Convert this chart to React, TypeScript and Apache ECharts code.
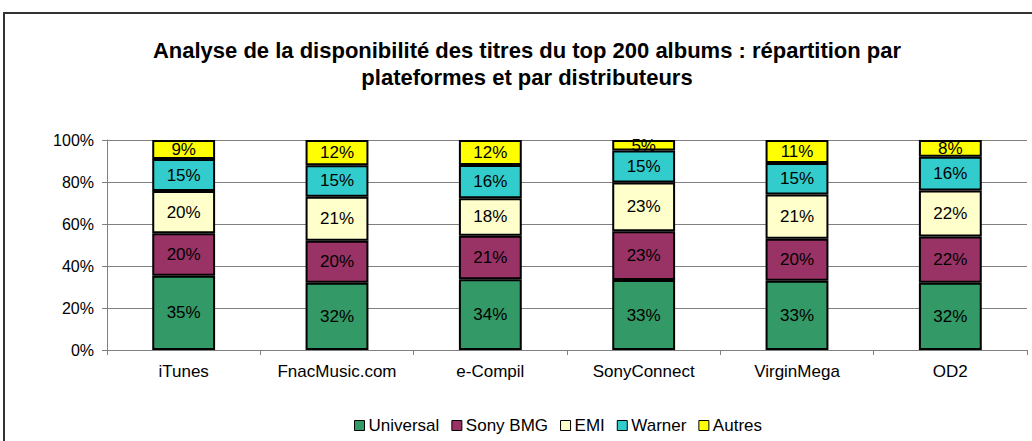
import React, { useEffect, useRef } from "react";
import * as echarts from "echarts";

const categories = ["iTunes", "FnacMusic.com", "e-Compil", "SonyConnect", "VirginMega", "OD2"];
const seriesNames = ["Universal", "Sony BMG", "EMI", "Warner", "Autres"];
const universal = [35, 32, 34, 33, 33, 32];
const sonyBmg = [20, 20, 21, 23, 20, 22];
const emi = [20, 21, 18, 23, 21, 22];
const warner = [15, 15, 16, 15, 15, 16];
const autres = [9, 12, 12, 5, 11, 8];
const colors = ["#339966", "#993366", "#FFFFCC", "#33CCCC", "#FFFF00"];
const yTicks = [0, 20, 40, 60, 80, 100];

const FONT = "Liberation Sans, Arial, sans-serif";

export default function App() {
  const ref = useRef<HTMLDivElement>(null);
  useEffect(() => {
    document.body.style.margin = "0";
    const chart = echarts.init(ref.current!, undefined, { renderer: "svg" });
    const raw = [universal, sonyBmg, emi, warner, autres];
    const totals = categories.map((_, i) => raw.reduce((s, arr) => s + arr[i], 0));
    const series = raw.map((arr, si) => ({
      name: seriesNames[si],
      type: "bar",
      stack: "total",
      barWidth: "41%",
      itemStyle: { color: colors[si], borderColor: "#000", borderWidth: 2 },
      label: {
        show: true,
        position: "inside",
        color: "#000",
        fontFamily: FONT,
        fontSize: 17,
        formatter: (p: any) => arr[p.dataIndex] + "%",
      },
      data: arr.map((v, i) => (v / totals[i]) * 100),
    }));
    chart.setOption({
      animation: false,
      title: {
        text: "Analyse de la disponibilité des titres du top 200 albums : répartition par\nplateformes et par distributeurs",
        left: 522,
        textAlign: "center",
        top: 32,
        textStyle: {
          fontFamily: FONT,
          fontSize: 22,
          fontWeight: "bold",
          color: "#000",
          lineHeight: 27,
        },
      },
      graphic: [
        {
          type: "rect",
          shape: { x: 4, y: 13, width: 1040, height: 440 },
          style: { fill: "none", stroke: "#333", lineWidth: 2 },
          silent: true,
          z: -1,
        },
      ],
      legend: {
        bottom: 2,
        left: 349,
        itemWidth: 10,
        itemHeight: 10,
        itemGap: 12,
        icon: "rect",
        data: seriesNames.map((n, i) => ({
          name: n,
          itemStyle: { color: colors[i], borderColor: "#000", borderWidth: 1 },
        })),
        textStyle: {
          fontFamily: FONT,
          fontSize: 17,
          color: "#000",
          padding: [0, 0, 0, -1],
        },
      },
      grid: { left: 107, right: 5, top: 140, bottom: 91 },
      xAxis: {
        type: "category",
        data: categories,
        axisLine: { lineStyle: { color: "#808080", width: 1 } },
        axisTick: { show: true, length: 5, lineStyle: { color: "#808080" } },
        axisLabel: {
          color: "#000",
          fontFamily: FONT,
          fontSize: 17,
          margin: 13,
          interval: 0,
        },
      },
      yAxis: {
        type: "value",
        min: 0,
        max: 100,
        interval: 20,
        axisLine: { show: true, lineStyle: { color: "#808080", width: 1 } },
        axisTick: { show: true, length: 5, lineStyle: { color: "#808080" } },
        splitLine: { lineStyle: { color: "#808080", width: 1 } },
        axisLabel: {
          color: "#000",
          fontFamily: FONT,
          fontSize: 16,
          margin: 13,
          formatter: (v: number) => (yTicks.includes(v) ? v + "%" : ""),
        },
      },
      series,
    });
    return () => chart.dispose();
  }, []);
  return <div ref={ref} style={{ width: 1032, height: 441 }} />;
}
